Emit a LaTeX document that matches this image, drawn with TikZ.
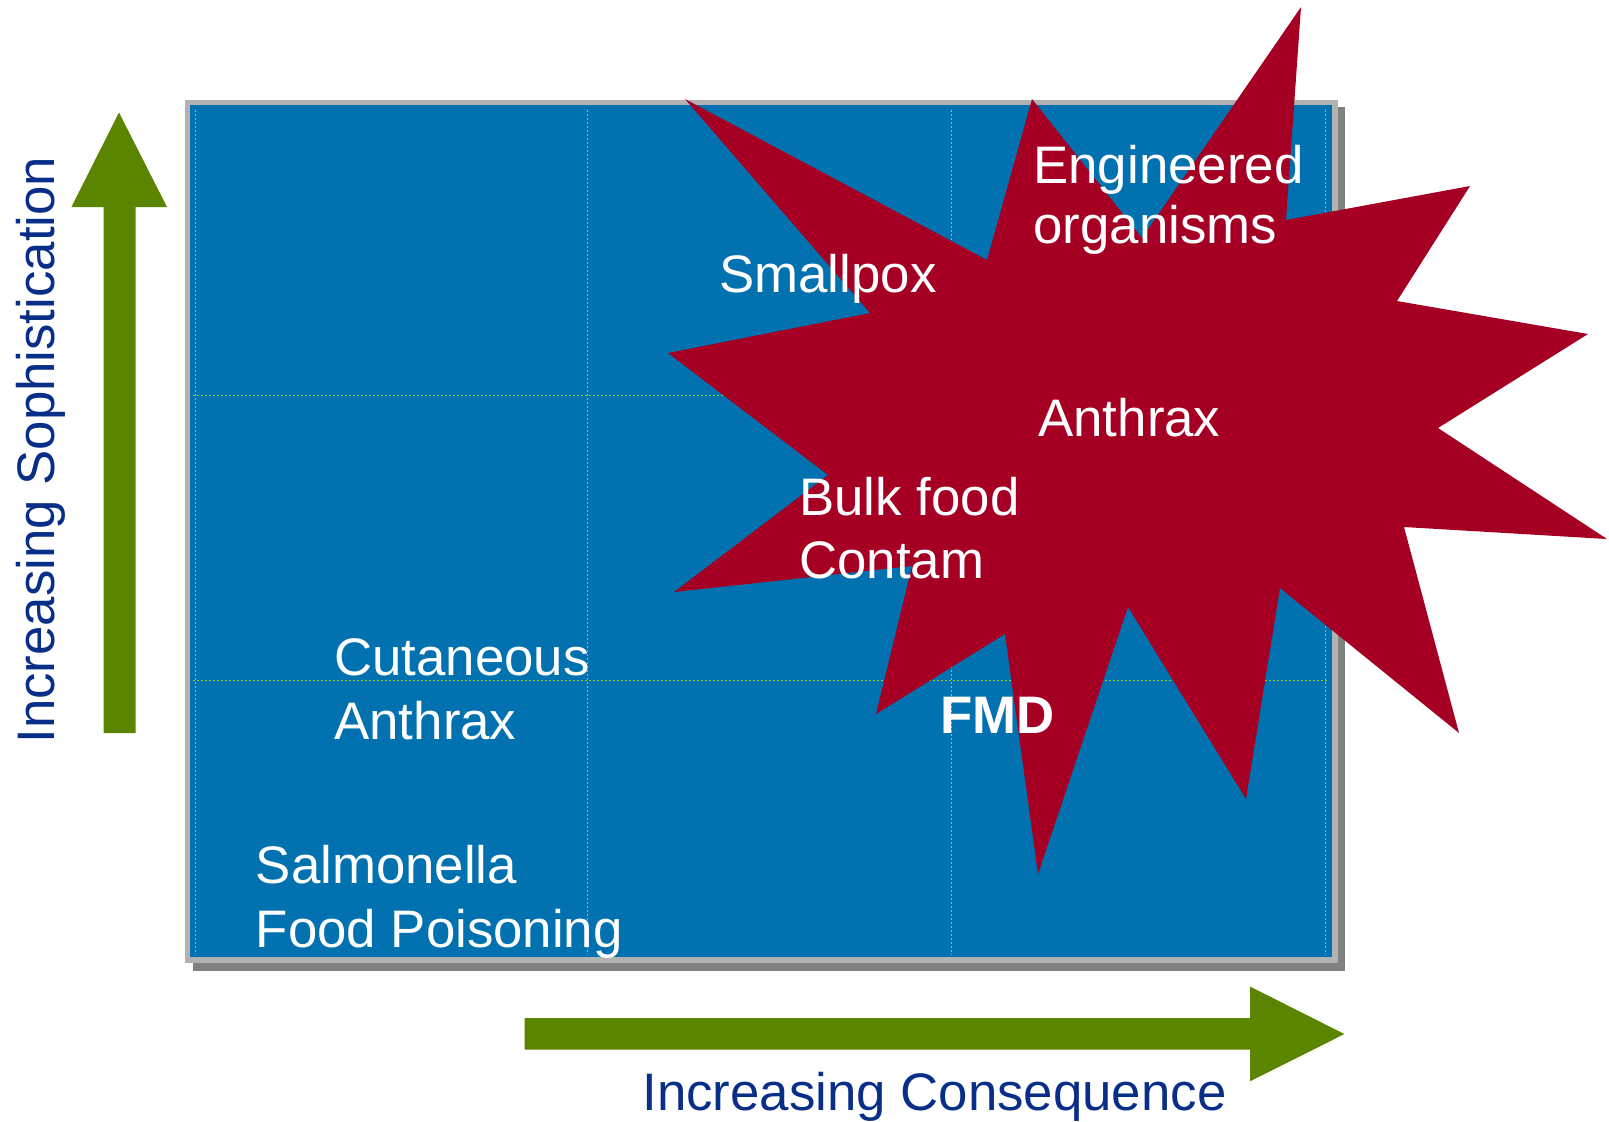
\documentclass[tikz,border=0pt]{standalone}
\usepackage{fontspec}
\setmainfont{Liberation Sans}
\definecolor{boxblue}{RGB}{2,113,176}
\definecolor{starred}{RGB}{165,0,35}
\definecolor{arrowgreen}{RGB}{91,133,0}
\definecolor{axisnavy}{RGB}{8,46,135}
\definecolor{framegray}{RGB}{178,178,178}
\definecolor{shadowgray}{RGB}{128,128,128}
\definecolor{gridgreen}{RGB}{150,200,50}
\begin{document}
\begin{tikzpicture}[x=0.5pt,y=-0.5pt,
  lbl/.style={text=white, inner sep=0pt, anchor=base west, font=\fontsize{26.4}{31}\selectfont},
  axislbl/.style={text=axisnavy, inner sep=0pt, anchor=base west, font=\fontsize{26.4}{31}\selectfont},
  gridline/.style={draw=gridgreen, line width=0.5pt, dash pattern=on 1pt off 1pt},
  arrowfill/.style={fill=arrowgreen}]
\useasboundingbox (0,0) rectangle (1609,1121);
% frame with shadow
\fill[shadowgray] (193,107) rectangle (1345,971);
\fill[framegray] (185,100) rectangle (1338,963);
\fill[boxblue] (190,105) rectangle (1331.5,957);
% grid
\foreach \gx in {195,587,951.5,1325}{\draw[gridline] (\gx,110) -- (\gx,955);}
\foreach \gy in {395,680}{\draw[gridline] (193,\gy) -- (1329,\gy);}
% star burst
\fill[starred] (1301,7) -- (1286,220) -- (1470,186) -- (1397,301) -- (1588,334)
  -- (1438,428) -- (1607,539) -- (1404,527) -- (1459,733) -- (1280,588)
  -- (1246,799) -- (1128,607) -- (1038,874) -- (1005,634) -- (876,714)
  -- (912,566) -- (674,592) -- (828,475) -- (668,353) -- (870,313)
  -- (685,99) -- (987,260) -- (1032,99) -- (1142,238) -- cycle;
% axis arrows
\fill[arrowfill] (103.6,733) -- (103.6,207) -- (71.4,207) -- (119,112.5) -- (167,207) -- (135.7,207) -- (135.7,733) -- cycle;
\fill[arrowfill] (524.5,1018) -- (1250,1018) -- (1250,986.5) -- (1344.4,1034) -- (1250,1081.3) -- (1250,1049.5) -- (524.5,1049.5) -- cycle;
% labels
\node[lbl] (eng1) at (1033,183) {Engineered};
\node[lbl] (eng2) at (1033,243) {organisms};
\node[lbl] (smallpox) at (719,292.5) {Smallpox};
\node[lbl] (anthrax) at (1038,436) {Anthrax};
\node[lbl] (bulk1) at (799,515) {Bulk food};
\node[lbl] (bulk2) at (799,578) {Contam};
\node[lbl] (cut1) at (334,675) {Cutaneous};
\node[lbl] (cut2) at (334,739.5) {Anthrax};
\node[lbl] (sal1) at (255.5,883) {Salmonella};
\node[lbl] (sal2) at (255.5,947) {Food Poisoning};
\node[lbl, font=\fontsize{26.4}{31}\selectfont\bfseries] (fmd) at (940,733.5) {FMD};
\node[axislbl] (xlabel) at (642,1110) {Increasing Consequence};
\node[axislbl, rotate=90] (ylabel) at (54,744) {Increasing Sophistication};
\end{tikzpicture}
\end{document}
